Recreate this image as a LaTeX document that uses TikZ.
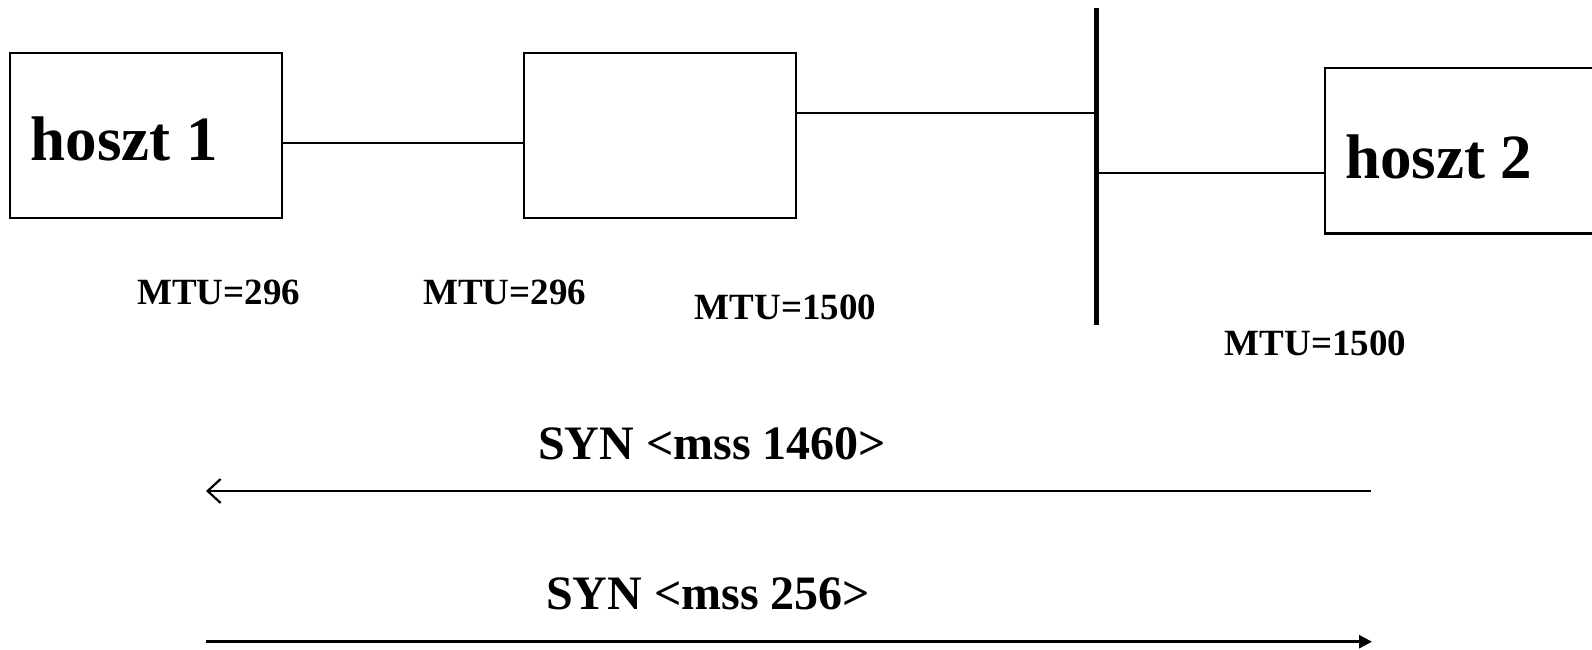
\documentclass[tikz,border=0pt]{standalone}
\usepackage{fontspec}
\setmainfont{Liberation Serif}
\usetikzlibrary{arrows.meta}
\begin{document}
\begin{tikzpicture}[x=1pt,y=-1pt,
  box/.style={draw,line width=2.2pt,rectangle,inner sep=0pt},
  conn/.style={line width=2pt},
  big/.style={inner sep=0pt,anchor=base west,font=\bfseries\fontsize{63}{65}\selectfont},
  mtu/.style={inner sep=0pt,anchor=base west,font=\bfseries\fontsize{37}{40}\selectfont},
  syn/.style={inner sep=0pt,anchor=base west,font=\bfseries\fontsize{48}{50}\selectfont},
  msg/.style={line width=2.6pt}]
\useasboundingbox (0,0) rectangle (1592,649);
% boxes
\node[box,minimum width=272pt,minimum height=165.5pt] (h1) at (146,135.5) {};
\node[box,minimum width=272pt,minimum height=165.5pt] (r) at (660,135.5) {};
\node[box,minimum width=320pt,minimum height=165.5pt] (h2) at (1485,150.8) {};
% bus
\coordinate (bt) at (1096.5,8);
\coordinate (bb) at (1096.5,325);
\draw[line width=5pt] (bt) -- (bb);
% connectors
\draw[conn] (h1.east |- 0,143) -- (r.west |- 0,143);
\draw[conn] (r.east |- 0,112.7) -- (bt |- 0,112.7);
\draw[conn] (bt |- 0,172.6) -- (h2.west |- 0,172.6);
% texts
\node[big] (t1) at (30.5,160.4) {hoszt 1};
\node[big] (t2) at (1345,178.7) {hoszt 2};
\node[mtu] (m1) at (137,304.6) {MTU=296};
\node[mtu] (m2) at (423,304.6) {MTU=296};
\node[mtu] (m3) at (694.5,319) {MTU=1500};
\node[mtu] (m4) at (1224.5,355) {MTU=1500};
\node[syn] (s1) at (538,459) {SYN <mss 1460>};
\node[syn] (s2) at (546,609) {SYN <mss 256>};
% messages
\coordinate (a1r) at (1370.7,491);
\coordinate (a1l) at (206,491);
\coordinate (a2l) at (206,641.7);
\coordinate (a2r) at (1372,641.7);
\draw[msg,-{Straight Barb[length=13pt,width=24pt,line width=2.2pt]}] (a1r) -- (a1l);
\draw[msg,-{Triangle[length=13pt,width=13pt]}] (a2l) -- (a2r);
\end{tikzpicture}
\end{document}
